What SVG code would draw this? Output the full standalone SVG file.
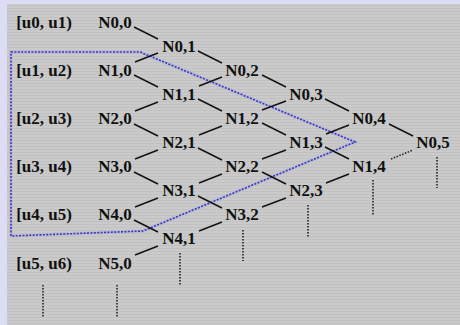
<svg xmlns="http://www.w3.org/2000/svg" width="460" height="325" viewBox="0 0 460 325">
<defs>
<pattern id="stripes" x="0" y="0" width="4" height="3" patternUnits="userSpaceOnUse">
<rect width="4" height="3" fill="#cacaca"/>
<rect y="2" width="4" height="1" fill="#c1c1c1"/>
</pattern>
<style>
text{font-family:"Liberation Serif","Times New Roman",serif;font-weight:bold;font-size:17px;fill:#111;text-anchor:middle}
.e{stroke:#111;stroke-width:1.4;fill:none}
.d{stroke:#222;stroke-width:1.6;fill:none;stroke-dasharray:1.5 1.5}
.b{stroke:#3838b8;stroke-width:1.6;fill:none;stroke-dasharray:2 1.4}
.bg{stroke:#b4b4dc;stroke-width:3.5;fill:none;opacity:0.6}
</style>
</defs>
<rect width="460" height="325" fill="#dcdcf4"/>
<rect x="7" y="4" width="453" height="321" fill="url(#stripes)"/>

<g id="labels">
<text x="44" y="28">[u0, u1)</text>
<text x="44" y="76">[u1, u2)</text>
<text x="44" y="124">[u2, u3)</text>
<text x="44" y="172">[u3, u4)</text>
<text x="44" y="220">[u4, u5)</text>
<text x="44" y="269">[u5, u6)</text>
</g>

<g id="region">
<path class="bg" d="M11,52 L140,52 L355,142 L143,231 L11,236 Z"/>
<path class="b" d="M11,52 L140,52 L355,142 L143,231 L11,236 Z"/>
</g>

<g id="connectors">
<path class="e" d="M134,27 L158,39"/>
<path class="e" d="M135,62 L158,53"/>
<path class="e" d="M134,75 L158,87"/>
<path class="e" d="M135,111 L158,102"/>
<path class="e" d="M134,124 L158,136"/>
<path class="e" d="M135,159 L158,150"/>
<path class="e" d="M134,172 L158,184"/>
<path class="e" d="M135,207 L158,198"/>
<path class="e" d="M134,220 L158,232"/>
<path class="e" d="M135,255 L158,246"/>
<path class="e" d="M198,51 L222,63"/>
<path class="e" d="M199,86 L222,77"/>
<path class="e" d="M198,99 L222,111"/>
<path class="e" d="M199,135 L222,126"/>
<path class="e" d="M198,148 L222,160"/>
<path class="e" d="M199,183 L222,174"/>
<path class="e" d="M198,196 L222,208"/>
<path class="e" d="M199,231 L222,222"/>
<path class="e" d="M262,75 L286,87"/>
<path class="e" d="M262,110 L286,101"/>
<path class="e" d="M262,123 L286,135"/>
<path class="e" d="M262,159 L286,150"/>
<path class="e" d="M262,172 L286,184"/>
<path class="e" d="M262,207 L286,198"/>
<path class="e" d="M325,99 L349,111"/>
<path class="e" d="M326,134 L349,125"/>
<path class="e" d="M325,147 L349,159"/>
<path class="e" d="M326,183 L349,174"/>
<path class="e" d="M389,124 L413,136"/>
<path class="d" d="M391,159 L413,150"/>
<path class="d" d="M437,157 V188"/>
<path class="d" d="M373,180 V215"/>
<path class="d" d="M308,205 V238"/>
<path class="d" d="M243,230 V261"/>
<path class="d" d="M180,253 V285"/>
<path class="d" d="M117,285 V317"/>
<path class="d" d="M43,285 V317"/>
</g>

<g id="N0_0"><text x="115" y="28">N0,0</text></g>
<g id="N1_0"><text x="115" y="76">N1,0</text></g>
<g id="N2_0"><text x="115" y="124">N2,0</text></g>
<g id="N3_0"><text x="115" y="172">N3,0</text></g>
<g id="N4_0"><text x="115" y="220">N4,0</text></g>
<g id="N5_0"><text x="115" y="269">N5,0</text></g>

<g id="N0_1"><text x="179" y="52">N0,1</text></g>
<g id="N1_1"><text x="179" y="100">N1,1</text></g>
<g id="N2_1"><text x="179" y="148">N2,1</text></g>
<g id="N3_1"><text x="179" y="196">N3,1</text></g>
<g id="N4_1"><text x="179" y="244">N4,1</text></g>

<g id="N0_2"><text x="242" y="76">N0,2</text></g>
<g id="N1_2"><text x="242" y="124">N1,2</text></g>
<g id="N2_2"><text x="242" y="172">N2,2</text></g>
<g id="N3_2"><text x="242" y="220">N3,2</text></g>

<g id="N0_3"><text x="306" y="100">N0,3</text></g>
<g id="N1_3"><text x="306" y="148">N1,3</text></g>
<g id="N2_3"><text x="306" y="196">N2,3</text></g>

<g id="N0_4"><text x="369" y="124">N0,4</text></g>
<g id="N1_4"><text x="369" y="172">N1,4</text></g>

<g id="N0_5"><text x="433" y="148">N0,5</text></g>
</svg>
